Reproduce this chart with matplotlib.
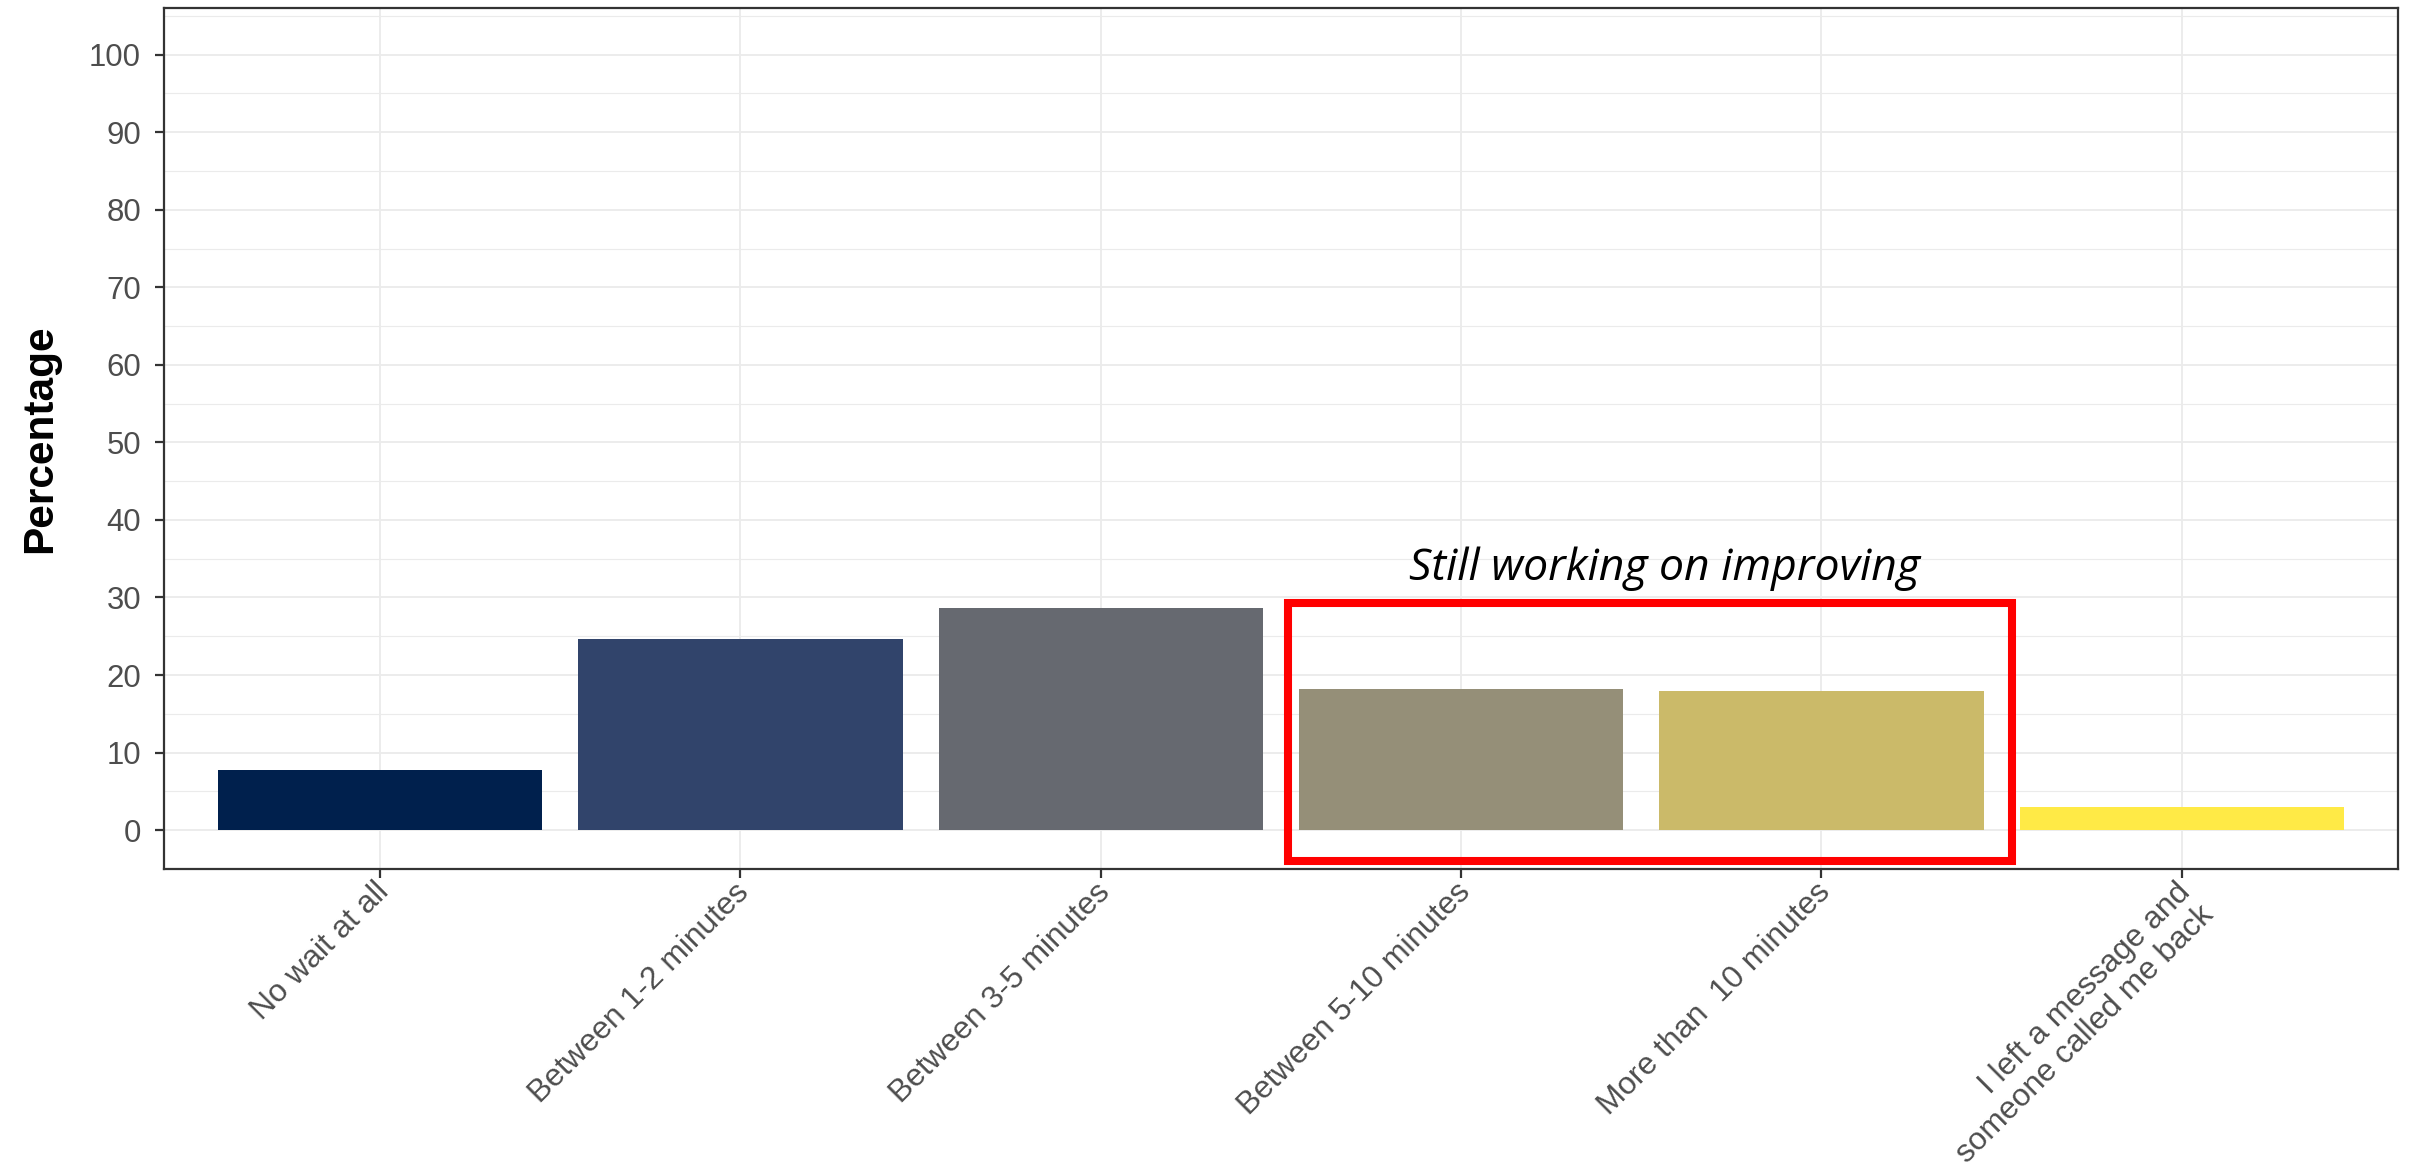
import matplotlib
matplotlib.use("Agg")
import matplotlib.pyplot as plt
from matplotlib.patches import Rectangle
import matplotlib.transforms as mtransforms
import numpy as np

# wait time categories and share of respondents (%)
categories = ["No wait at all", "Between 1-2 minutes", "Between 3-5 minutes",
              "Between 5-10 minutes", "More than  10 minutes",
              "I left a message and\nsomeone called me back"]
percentages = [7.7, 24.6, 28.7, 18.2, 18.0, 3.0]
bar_colors = ["#00204D", "#31446B", "#666970", "#958F78", "#CBBA69", "#FFEA46"]
y_ticks = [0, 10, 20, 30, 40, 50, 60, 70, 80, 90, 100]

# highlight box around the two longest waits
box_x = (3.52, 5.53)
box_y = (-3.95, 29.27)
note = "Still working on improving"

fig = plt.figure(figsize=(24.1, 11.71), dpi=100)
ax = fig.add_axes([0.068, 0.258, 0.927, 0.735])

x = np.arange(1, len(categories) + 1)
ax.bar(x, percentages, width=0.9, color=bar_colors, zorder=2)

ax.set_xlim(0.4, 6.6)
ax.set_ylim(-5.0, 106.0)
ax.set_yticks(y_ticks)
ax.set_yticks(np.arange(5, 106, 10), minor=True)
ax.set_xticks(x)
ax.set_xticklabels(categories, rotation=45, ha="right", va="top",
                   rotation_mode="anchor", multialignment="right",
                   linespacing=1.08)

ax.grid(which="major", color="#EBEBEB", linewidth=1.3, zorder=0)
ax.grid(which="minor", axis="y", color="#EBEBEB", linewidth=0.8, zorder=0)
ax.set_axisbelow(True)

for s in ax.spines.values():
    s.set_color("#333333")
    s.set_linewidth(1.6)

ax.tick_params(axis="both", which="major", length=6.5, width=1.6, color="#333333",
               labelcolor="#4D4D4D")
ax.tick_params(axis="y", which="major", pad=10, labelsize=22.4)
ax.tick_params(axis="x", which="major", pad=3, labelsize=22.8)
ax.tick_params(axis="y", which="minor", length=0)
for lab in ax.get_xticklabels() + ax.get_yticklabels():
    lab.set_fontfamily("Liberation Sans")

# nudge the rotated labels so they end just left of their tick
shift = mtransforms.ScaledTranslation(-6 / 100, 5 / 100, fig.dpi_scale_trans)
for lab in ax.get_xticklabels():
    lab.set_transform(lab.get_transform() + shift)

ax.set_ylabel("Percentage", fontsize=30.5, fontweight="bold", family="Liberation Sans",
              labelpad=21)

rect = Rectangle((box_x[0], box_y[0]), box_x[1] - box_x[0], box_y[1] - box_y[0],
                 fill=False, edgecolor="#FF0000", linewidth=5.8, zorder=3)
ax.add_patch(rect)
ax.text(4.564, 32.3, note, ha="center", va="baseline", fontsize=32,
        style="italic", family="Open Sans", color="black", zorder=4)

fig.savefig("out.png", dpi=100, facecolor="white")
